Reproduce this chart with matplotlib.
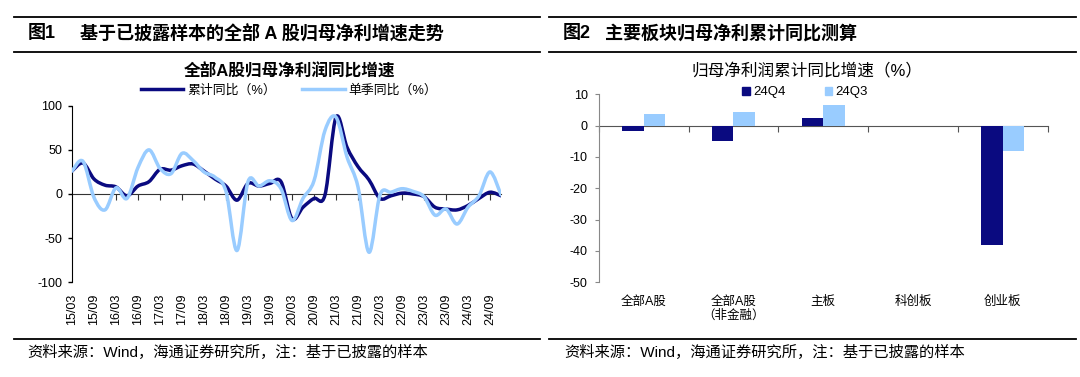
import matplotlib.pyplot as plt
import numpy as np
from matplotlib.path import Path
from matplotlib.patches import PathPatch, Patch
from matplotlib.lines import Line2D

plt.rcParams['font.family'] = ['Liberation Sans', 'Noto Sans CJK SC']
plt.rcParams['axes.unicode_minus'] = False

# ---- data: figure 1 (quarterly, 15Q1 .. 24Q4) ----
cum_yoy = [26, 35, 17, 10, 8, -2, 9, 14, 28, 27, 32, 34, 26, 17, 9, -7, 12, 9, 12, 14,
           -28, -15, -5, -1, 87, 53, 31, 16, -5, -2, 1, 0, -3, -15, -17, -18, -13, -5, 2, -2]
q_yoy = [26, 37, -4, -18, 7, -5, 30, 50, 29, 23, 46, 38, 25, 19, 3, -64, 14, 9, 15, 6,
         -30, -5, 15, 72, 87, 42, 8, -66, -1, 2, 6, 3, -3, -24, -17, -34, -15, -2, 25, -1]
tick_labels = ['15/03', '15/09', '16/03', '16/09', '17/03', '17/09', '18/03', '18/09',
               '19/03', '19/09', '20/03', '20/09', '21/03', '21/09', '22/03', '22/09',
               '23/03', '23/09', '24/03', '24/09']

# ---- data: figure 2 ----
boards = ['全部A股', '全部A股\n（非金融）', '主板', '科创板', '创业板']
q4_vals = [-1.7, -4.9, 2.4, np.nan, -38.1]
q3_vals = [3.7, 4.4, 6.6, np.nan, -8.1]

dark = '#0A0A80'
light = '#99CCFF'
W, H = 1080, 377


def smooth_path(xs, ys):
    # Excel-like smoothed line: Catmull-Rom segments as cubic Beziers
    pts = np.column_stack([xs, ys]).astype(float)
    ext = np.vstack([pts[0], pts, pts[-1]])
    verts = [pts[0]]
    codes = [Path.MOVETO]
    for i in range(len(pts) - 1):
        p0, p1, p2, p3 = ext[i], ext[i + 1], ext[i + 2], ext[i + 3]
        verts += [p1 + (p2 - p0) / 6, p2 - (p3 - p1) / 6, p2]
        codes += [Path.CURVE4] * 3
    return Path(verts, codes)


def fx(px):
    return px / W


def fy(py):
    return 1 - py / H


fig = plt.figure(figsize=(10.8, 3.77), dpi=100)

# ---- frame rules and headings ----
for x0, x1 in [(14, 540), (549, 1076)]:
    for y in (16.7, 51.7, 339):
        fig.add_artist(Line2D([fx(x0), fx(x1)], [fy(y), fy(y)], color='black', lw=1.3,
                              transform=fig.transFigure))

fig.text(fx(28), fy(33.5), '图1', fontsize=13, weight='bold', va='center')
fig.text(fx(80), fy(33.5), '基于已披露样本的全部 A 股归母净利增速走势', fontsize=13,
         weight='bold', va='center')
fig.text(fx(563), fy(33.5), '图2', fontsize=13, weight='bold', va='center')
fig.text(fx(605), fy(33.5), '主要板块归母净利累计同比测算', fontsize=13, weight='bold',
         va='center')
fig.text(fx(289), fy(71), '全部A股归母净利润同比增速', fontsize=12, weight='bold',
         ha='center', va='center')
fig.text(fx(807), fy(71.5), '归母净利润累计同比增速（%）', fontsize=12,
         ha='center', va='center')
src = '资料来源：Wind，海通证券研究所，注：基于已披露的样本'
fig.text(fx(27), fy(352), src, fontsize=11, va='center')
fig.text(fx(564), fy(352), src, fontsize=11, va='center')

# ---- figure 1: line chart ----
ax1 = fig.add_axes([fx(72), fy(282.3), fx(501) - fx(72), fy(105.7) - fy(282.3)])
x = np.arange(len(cum_yoy))
ax1.add_patch(PathPatch(smooth_path(x, cum_yoy), fill=False, edgecolor=dark, lw=2.5,
                        capstyle='round', joinstyle='round', zorder=3))
ax1.add_patch(PathPatch(smooth_path(x, q_yoy), fill=False, edgecolor=light, lw=2.5,
                        capstyle='round', joinstyle='round', zorder=4))
ax1.set_xlim(0, len(cum_yoy) - 1)
ax1.set_ylim(-100, 100)
ax1.set_yticks([-100, -50, 0, 50, 100])
for s in ('top', 'right', 'bottom'):
    ax1.spines[s].set_visible(False)
ax1.spines['left'].set_color('black')
ax1.tick_params(axis='y', length=3, pad=4, labelsize=9, width=1)
ax1.set_xticks(x[::2], tick_labels, rotation=90)
ax1.tick_params(axis='x', length=0, pad=8, labelsize=9)
sec1 = ax1.secondary_xaxis(0.5)
sec1.set_alignment('bottom')
sec1.set_xticks(x[2::2])
sec1.tick_params(axis='x', length=4, labelbottom=False, labeltop=False, color='#333333')
sec1.spines['bottom'].set_color('#333333')

fig.legend(handles=[Line2D([], [], color=dark, lw=2.5), Line2D([], [], color=light, lw=2.5)],
           labels=['累计同比（%）', '单季同比（%）'], loc='center',
           bbox_to_anchor=(fx(289), fy(90.5)), ncol=2, frameon=False, fontsize=9.3,
           handlelength=3.3, handletextpad=0.3, columnspacing=2.0, borderpad=0)

# ---- figure 2: bar chart ----
ax2 = fig.add_axes([fx(598.7), fy(282.3), fx(1047.7) - fx(598.7), fy(94.3) - fy(282.3)])
pos = np.arange(len(boards)) + 0.5
bw = 0.24
ax2.bar(pos - bw / 2, q4_vals, bw, color=dark, label='24Q4', zorder=2)
ax2.bar(pos + bw / 2, q3_vals, bw, color=light, label='24Q3', zorder=2)
ax2.set_xlim(0, len(boards))
ax2.set_ylim(-50, 10)
ax2.set_yticks(np.arange(-50, 11, 10))
for s in ('top', 'right', 'bottom'):
    ax2.spines[s].set_visible(False)
ax2.spines['left'].set_color('#888888')
ax2.tick_params(axis='y', length=3, pad=5, labelsize=9, color='#888888')
ax2.set_xticks(pos, boards)
ax2.tick_params(axis='x', length=0, pad=10, labelsize=9)
sec2 = ax2.secondary_xaxis(50 / 60)
sec2.set_alignment('bottom')
sec2.set_xticks(np.arange(len(boards) + 1))
sec2.tick_params(axis='x', length=4, labelbottom=False, labeltop=False, color='#555555')
sec2.spines['bottom'].set_color('#555555')

fig.legend(handles=[Patch(color=dark), Patch(color=light)], labels=['24Q4', '24Q3'],
           loc='center', bbox_to_anchor=(fx(805), fy(92.5)), ncol=2, frameon=False,
           fontsize=9.5, handlelength=0.55, handleheight=0.55, handletextpad=0.25,
           columnspacing=3.0, borderpad=0)

fig.savefig('out.png', dpi=100, facecolor='white')
